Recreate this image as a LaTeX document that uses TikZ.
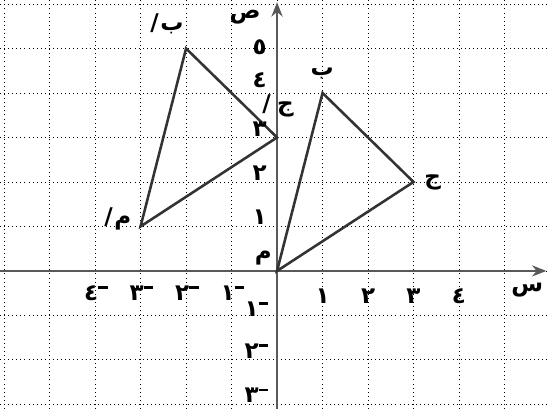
\documentclass[tikz,border=0pt]{standalone}
\usepackage{fontspec}
\newfontfamily\arabicfont[Script=Arabic]{DejaVu Sans}
\usetikzlibrary{arrows.meta}
\newcommand{\negbar}{\raisebox{0.9ex}{\rule{0.42em}{0.13em}}}

\begin{document}
\begin{tikzpicture}[x=1cm, y=0.978cm,
    gridline/.style={dotted, line width=0.55pt, black},
    axisline/.style={line width=1.2pt, black!65, -{Stealth[length=9pt, width=7pt]}},
    triline/.style={line width=1.6pt, black!80, line join=miter},
    lbl/.style={font=\arabicfont\bfseries\Large, inner sep=1pt}]
    \useasboundingbox (-6.09,-3.1) rectangle (6.0,6.09);

    % Draw grid
    \foreach \i in {-6,...,5} \draw[gridline] (\i,-3.1) -- (\i,6.09);
    \foreach \j in {-3,...,6} \draw[gridline] (-6.09,\j) -- (6,\j);

    % Draw axes
    \coordinate (xstart) at (-6.09,0);
    \coordinate (xend) at (5.92,0);
    \coordinate (ystart) at (0,-3.1);
    \coordinate (yend) at (0,6.04);
    \draw[axisline] (xstart) -- (xend);
    \draw[axisline] (ystart) -- (yend);
    \node[lbl] (sname) at (5.5,-0.43) {س};
    \node[lbl] (sadname) at (-0.7,5.7) {ص};

    % Draw triangles
    \coordinate (m) at (0,0);
    \coordinate (b) at (1,4);
    \coordinate (j) at (3,2);
    \coordinate (m1) at (-3,1);
    \coordinate (b1) at (-2,5);
    \coordinate (j1) at (0,3);
    \draw[triline] (m) -- (b) -- (j) -- cycle;
    \draw[triline] (m1) -- (b1) -- (j1) -- cycle;

    % Draw vertex labels
    \node[lbl] (mlbl) at (-0.3,0.3) {م};
    \node[lbl] (blbl) at (0.99,4.45) {ب};
    \node[lbl] (jlbl) at (3.42,1.98) {ج};
    \node[lbl] (m1lbl) at (-3.5,1.17) {/\kern1pt م};
    \node[lbl] (b1lbl) at (-2.42,5.55) {/\kern1pt ب};
    \node[lbl] (j1lbl) at (0.02,3.72) {/\kern4pt ج};

    % Draw axis numbers
    \foreach \v/\d [count=\k] in {1/١,2/٢,3/٣,4/٤}
        \node[lbl] (xpos\k) at (\v,-0.56) {\d};
    \foreach \v/\d [count=\k] in {-4/٤,-3/٣,-2/٢,-1/١}
        \node[lbl] (xneg\k) at (\v+0.02,-0.5) {\d\negbar};
    \foreach \v/\d [count=\k] in {1.2/١,2.2/٢,3.18/٣,4.29/٤,5.03/٥}
        \node[lbl] (ypos\k) at (-0.38,\v) {\d};
    \foreach \v/\d [count=\k] in {-0.85/١,-1.8/٢,-2.8/٣}
        \node[lbl] (yneg\k) at (-0.45,\v) {\d\negbar};
\end{tikzpicture}
\end{document}
